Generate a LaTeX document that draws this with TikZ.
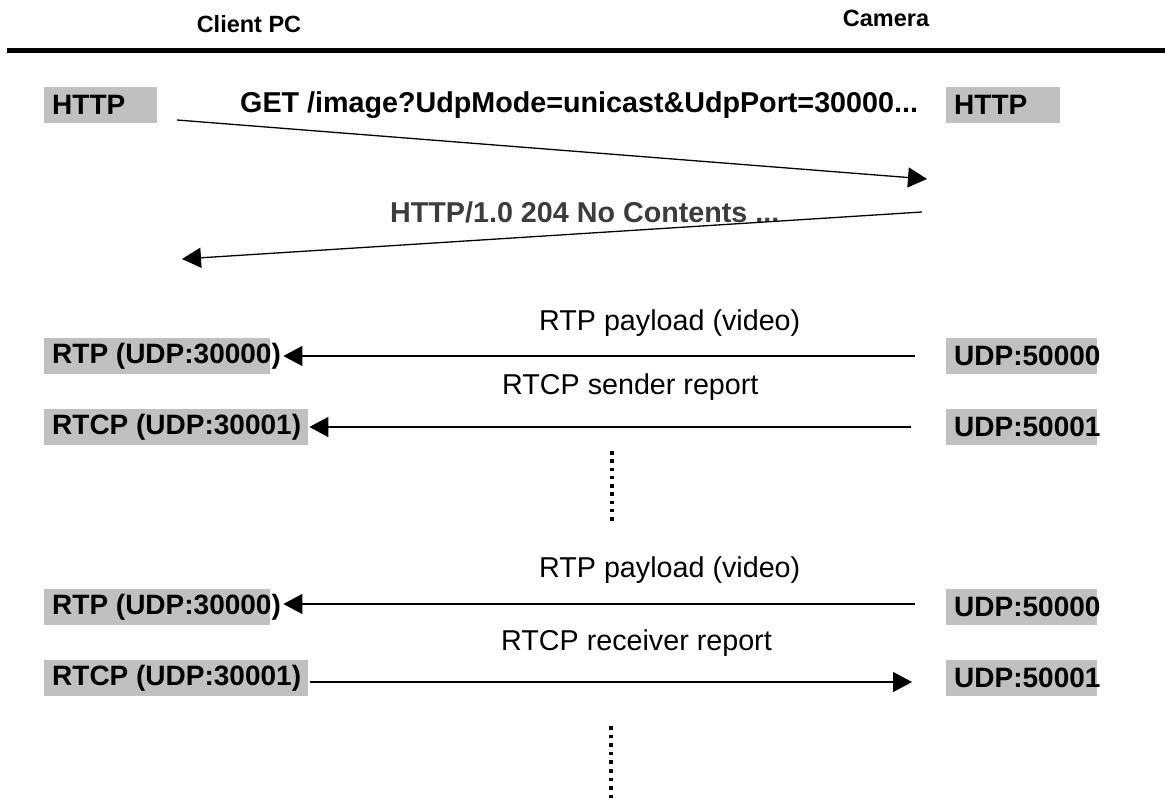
\documentclass[tikz,border=0pt]{standalone}
\usepackage{fontspec}
\setmainfont{Liberation Sans}
\usetikzlibrary{arrows.meta}
\definecolor{boxgray}{HTML}{C0C0C0}
\definecolor{replygray}{HTML}{3C3C3C}
\newcommand{\boxtext}[2]{\makebox[#1][l]{#2}}
\begin{document}
\begin{tikzpicture}[x=1pt,y=-1pt,
  hdr/.style={font=\fontsize{23.5}{28}\selectfont\bfseries, inner sep=0pt, anchor=base},
  lbl/.style={fill=boxgray, inner xsep=8pt, inner ysep=0pt, minimum height=36pt, anchor=west, font=\fontsize{28}{32}\selectfont\bfseries},
  msg/.style={font=\fontsize{28.7}{32}\selectfont\bfseries, inner sep=0pt, anchor=base west},
  note/.style={font=\fontsize{28.7}{32}\selectfont, inner sep=0pt, anchor=base west},
  flow/.style={line width=1.3pt, -{Triangle[length=19pt,width=20pt]}},
  dotline/.style={line width=3.5pt}
]
\useasboundingbox[fill=white] (0,0) rectangle (1165,800);

% header
\node[hdr] (client) at (249,33) {Client PC};
\node[hdr] (camera) at (886,27) {Camera};
\draw[line width=5pt] (7,51) -- (1165,51);

% HTTP exchange
\node[lbl] (httpL) at (44,105) {\boxtext{97pt}{HTTP}};
\node[lbl] (httpR) at (946,105) {\boxtext{98pt}{HTTP}};
\node[msg] (get) at (240,113) {GET /image?UdpMode=unicast\&UdpPort=30000...};
\node[msg, text=replygray] (reply) at (390,222) {HTTP/1.0 204 No Contents ...};
\coordinate (getS) at (177,120);
\coordinate (getE) at (927,179);
\coordinate (repS) at (922,212);
\coordinate (repE) at (182,259);
\draw[flow] (getS) -- (getE);
\draw[flow] (repS) -- (repE);

% first RTP / RTCP pair
\node[lbl] (rtpA) at (44,356) {\boxtext{210pt}{RTP (UDP:30000)}};
\node[lbl] (udpA) at (946,356) {\boxtext{135pt}{UDP:50000}};
\node[note] (noteA) at (539,330) {RTP payload (video)};
\draw[flow] ([xshift=-31pt]udpA.west) -- ([xshift=13pt]rtpA.east);

\node[lbl] (rtcpB) at (44,427) {\boxtext{248pt}{RTCP (UDP:30001)}};
\node[lbl] (udpB) at (946,427) {\boxtext{135pt}{UDP:50001}};
\node[note] (noteB) at (502,394) {RTCP sender report};
\draw[flow] ([xshift=-35pt]udpB.west) -- ([xshift=1pt]rtcpB.east);

\draw[dotline, dash pattern=on 3.5pt off 4.75pt] (612,451) -- (612,522);

% second RTP / RTCP pair
\node[lbl] (rtpC) at (44,607) {\boxtext{210pt}{RTP (UDP:30000)}};
\node[lbl] (udpC) at (946,607) {\boxtext{135pt}{UDP:50000}};
\node[note] (noteC) at (539,577) {RTP payload (video)};
\draw[flow] ([xshift=-31pt,yshift=3pt]udpC.west) -- ([xshift=13pt,yshift=3pt]rtpC.east);

\node[lbl] (rtcpD) at (44,678) {\boxtext{248pt}{RTCP (UDP:30001)}};
\node[lbl] (udpD) at (946,678) {\boxtext{135pt}{UDP:50001}};
\node[note] (noteD) at (501,650) {RTCP receiver report};
\draw[flow] ([xshift=2pt,yshift=-4pt]rtcpD.east) -- ([xshift=-34pt,yshift=-4pt]udpD.west);

\draw[dotline, dash pattern=on 3.5pt off 5.1pt] (611,726) -- (611,800);
\end{tikzpicture}
\end{document}
